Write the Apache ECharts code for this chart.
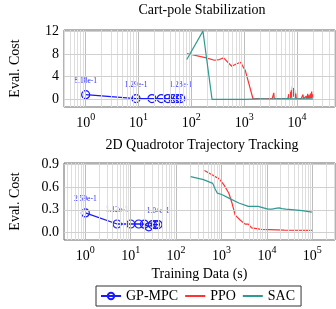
<!DOCTYPE html>
<html><head><meta charset="utf-8">
<script src="https://cdn.jsdelivr.net/npm/echarts@6/dist/echarts.min.js"></script>
<style>html,body{margin:0;padding:0;background:#fff}#c{width:336px;height:309px}</style>
</head><body><div id="c"></div>
<script>
// ---------- data ----------
const titles = ['Cart-pole Stabilization', '2D Quadrotor Trajectory Tracking'];
const seriesNames = ['GP-MPC', 'PPO', 'SAC'];
const xTickValsTop = [1, 10, 100, 1000, 10000];
const xTickValsBot = [1, 10, 100, 1000, 10000, 100000];
const yTickValsTop = [0, 4, 8, 12];
const yTickValsBot = [0, 0.3, 0.6, 0.9];

const cartGpX = [1, 9, 18, 27, 36, 45, 54, 63];
const cartGpY = [0.818, 0.129, 0.130, 0.128, 0.128, 0.129, 0.128, 0.128];
const cartGpLbl = ['8.18e-1', '1.29e-1', '', '', '', '', '', '1.28e-1'];

const cartPpoX = [82, 192, 274, 339, 408, 582, 692, 851, 918, 1050, 1470, 1800, 2200, 2600, 3000, 3400, 3550, 3640, 3720, 4200, 5000, 6000, 6500, 6700, 7000, 7200, 7400, 7600, 7800, 8000, 8200, 8400, 8600, 8800, 9000, 9200, 9500, 9700, 10500, 12000, 13000, 13300, 14500, 15000, 15300, 16000, 16300, 17000, 17300, 18000, 18300, 19000, 19300, 20000];
const cartPpoY = [8.06, 7.29, 6.88, 7.0, 7.29, 5.82, 6.18, 6.53, 6.76, 5.1, 0.1, 0.12, 0.08, 0.1, 0.12, 0.1, 0.1, 1.15, 0.1, 0.12, 0.1, 0.15, 0.4, 0.1, 0.9, 0.15, 1.3, 0.2, 1.6, 0.3, 2.3, 0.4, 2.0, 0.5, 1.7, 0.2, 1.0, 0.1, 0.15, 0.1, 0.85, 0.1, 0.15, 0.55, 0.1, 0.98, 0.1, 0.7, 0.15, 1.0, 0.2, 1.35, 0.2, 0.9];

const cartSacX = [82, 166, 247, 500, 1000, 1500, 2000, 3000, 4000, 5000, 6500, 8000, 10000, 13000, 16000, 20000];
const cartSacY = [7.0, 12.0, 0.0, 0.0, 0.0, 0.05, 0.08, 0.06, 0.1, 0.07, 0.12, 0.08, 0.1, 0.07, 0.1, 0.08];

const quadGpX = [1, 5, 10, 15, 20, 25, 30, 35, 40];
const quadGpY = [0.259, 0.112, 0.112, 0.112, 0.110, 0.075, 0.104, 0.104, 0.104];
const quadGpLbl = ['2.59e-1', '1.12e-1', '', '', '', '', '', '', '1.04e-1'];

const quadPpoX = [420, 630, 885, 1130, 1450, 1700, 2000, 2570, 3300, 3900, 4600, 7600, 24000, 98000];
const quadPpoY = [0.82, 0.76, 0.71, 0.63, 0.52, 0.39, 0.23, 0.165, 0.11, 0.11, 0.06, 0.04, 0.03, 0.027];

const quadSacX = [209, 400, 640, 720, 810, 1040, 1450, 2400, 3900, 6400, 10500, 13000, 14000, 15500, 17000, 18500, 20000, 21500, 26000, 40000, 60000, 98000];
const quadSacY = [0.74, 0.70, 0.65, 0.58, 0.52, 0.50, 0.455, 0.39, 0.345, 0.345, 0.31, 0.31, 0.325, 0.32, 0.33, 0.325, 0.345, 0.315, 0.31, 0.30, 0.29, 0.27];

// ---------- styling ----------
const FONT = '"Liberation Serif", "DejaVu Serif", serif';
const BLUE = '#1a1aff', RED = '#ff3333', TEAL = '#2f9a94';
const pairs = (xs, ys) => xs.map((x, i) => [x, ys[i]]);

function gridLines(minX, maxX, yTicks) {
  const out = [];
  for (let d = -1; d <= 6; d++) {
    for (let m = 1; m <= 9; m++) {
      const v = m * Math.pow(10, d);
      if (v > minX && v < maxX) out.push({ xAxis: v, lineStyle: { color: m === 1 ? '#bdbdbd' : '#dedede', width: 1, type: 'solid' } });
    }
  }
  yTicks.forEach(v => out.push({ yAxis: v, lineStyle: { color: '#d0d0d0', width: 1, type: 'solid' } }));
  return out;
}

const xMin = [Math.pow(10, -0.41), Math.pow(10, -0.47)];
const xMax = [Math.pow(10, 4.72), Math.pow(10, 5.5)];

function xAxisOf(i, ticks, name) {
  return {
    type: 'log', logBase: 10, gridIndex: i, min: xMin[i], max: xMax[i],
    axisLine: { show: false }, axisTick: { show: false }, splitLine: { show: false }, minorSplitLine: { show: false },
    name: name, nameLocation: 'middle', nameGap: 27,
    nameTextStyle: { fontFamily: FONT, fontSize: 14, color: '#000' },
    axisLabel: {
      customValues: ticks, margin: 5, color: '#000',
      formatter: v => '{b|10}{s|' + Math.round(Math.log10(v)) + '}',
      rich: { b: { fontFamily: FONT, fontSize: 14, color: '#000', verticalAlign: 'bottom', lineHeight: 18 },
              s: { fontFamily: FONT, fontSize: 10, color: '#000', verticalAlign: 'top', lineHeight: 18, padding: [0, 0, 8, 0] } }
    }
  };
}
function yAxisOf(i, min, max, ticks, fmt) {
  return {
    type: 'value', gridIndex: i, min: min, max: max,
    axisLine: { show: false }, axisTick: { show: false }, splitLine: { show: false },
    name: 'Eval. Cost', nameLocation: 'middle', nameGap: 42,
    nameTextStyle: { fontFamily: FONT, fontSize: 14, color: '#000' },
    axisLabel: { customValues: ticks, margin: 5, color: '#000', fontFamily: FONT, fontSize: 14, formatter: fmt }
  };
}

function gpSeries(i, xs, ys, lbls) {
  return {
    name: 'GP-MPC', type: 'line', xAxisIndex: i, yAxisIndex: i, z: 3,
    data: pairs(xs, ys), symbol: 'circle', symbolSize: 8,
    color: BLUE,
    lineStyle: { color: BLUE, width: 1.3 },
    itemStyle: { color: 'rgba(255,255,255,0)', borderColor: BLUE, borderWidth: 1.2 },
    label: { show: true, position: 'top', distance: 5, fontFamily: FONT, fontSize: 7.5, color: '#2a2aff',
             formatter: p => lbls[p.dataIndex] },
    animation: false
  };
}
function lineSeries(name, i, xs, ys, col, z) {
  return { name: name, type: 'line', xAxisIndex: i, yAxisIndex: i, z: z, data: pairs(xs, ys),
           symbol: 'none', showSymbol: false, color: col, lineStyle: { color: col, width: 1.2 }, animation: false };
}
function gridSeries(i, yTicks) {
  return { type: 'line', xAxisIndex: i, yAxisIndex: i, z: 1, data: [[1, 0]], symbol: 'none',
           lineStyle: { opacity: 0 }, silent: true, animation: false,
           markLine: { silent: true, symbol: ['none', 'none'], label: { show: false }, animation: false,
                       data: gridLines(xMin[i], xMax[i], yTicks) } };
}

const chart = echarts.init(document.getElementById('c'), null, { renderer: 'canvas' });
chart.setOption({
  animation: false,
  backgroundColor: '#fff',
  title: [
    { text: titles[0], left: 197, top: -2, textAlign: 'center', textStyle: { fontFamily: FONT, fontSize: 14, fontWeight: 'normal', color: '#000' } },
    { text: titles[1], left: 197, top: 133, textAlign: 'center', textStyle: { fontFamily: FONT, fontSize: 14, fontWeight: 'normal', color: '#000' } }
  ],
  grid: [
    { left: 58, right: 1, top: 30, height: 77, show: true, borderColor: '#666', borderWidth: 1, backgroundColor: 'transparent' },
    { left: 58, right: 1, top: 163, height: 77, show: true, borderColor: '#666', borderWidth: 1, backgroundColor: 'transparent' }
  ],
  xAxis: [xAxisOf(0, xTickValsTop, ''), xAxisOf(1, xTickValsBot, 'Training Data (s)')],
  yAxis: [yAxisOf(0, -1.35, 12.2, yTickValsTop, v => String(Math.round(v))),
          yAxisOf(1, -0.1, 0.92, yTickValsBot, v => v.toFixed(1))],
  legend: {
    data: [
      { name: seriesNames[0] },
      { name: seriesNames[1], itemStyle: { opacity: 0 } },
      { name: seriesNames[2], itemStyle: { opacity: 0 } }
    ],
    left: 96, top: 286, width: 200,
    padding: [3, 6, 3, 4], itemGap: 6, itemWidth: 20, itemHeight: 8,
    borderColor: '#333', borderWidth: 1, borderRadius: 0,
    textStyle: { fontFamily: FONT, fontSize: 14, color: '#000' }
  },
  series: [
    gridSeries(0, yTickValsTop),
    gpSeries(0, cartGpX, cartGpY, cartGpLbl),
    lineSeries('PPO', 0, cartPpoX, cartPpoY, RED, 4),
    lineSeries('SAC', 0, cartSacX, cartSacY, TEAL, 5),
    gridSeries(1, yTickValsBot),
    gpSeries(1, quadGpX, quadGpY, quadGpLbl),
    lineSeries('PPO', 1, quadPpoX, quadPpoY, RED, 4),
    lineSeries('SAC', 1, quadSacX, quadSacY, TEAL, 5)
  ]
});
</script></body></html>
